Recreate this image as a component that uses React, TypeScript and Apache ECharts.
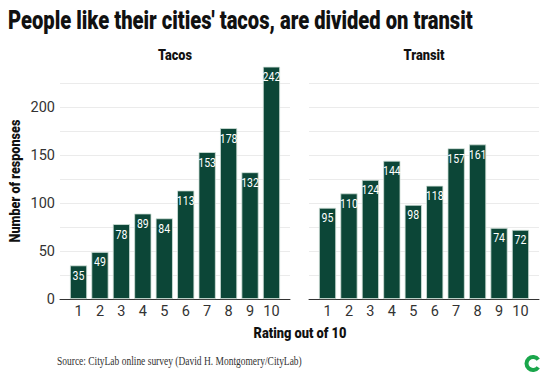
import React, { useEffect, useRef } from "react";
import * as echarts from "echarts";

const categories = ["1", "2", "3", "4", "5", "6", "7", "8", "9", "10"];
const tacos = [35, 49, 78, 89, 84, 113, 153, 178, 132, 242];
const transit = [95, 110, 124, 144, 98, 118, 157, 161, 74, 72];
const panelTitles = ["Tacos", "Transit"];
const yMax = 250;
const yStep = 25;

const FONT = "Roboto, 'Noto Sans', sans-serif";
const BAR = "#0c4637";

function fitScale(text: string, font: string, target: number): number {
  const c = document.createElement("canvas").getContext("2d")!;
  c.font = font;
  const w = c.measureText(text).width;
  return w > 0 ? target / w : 1;
}

export default function App() {
  const ref = useRef<HTMLDivElement>(null);
  useEffect(() => {
    document.body.style.margin = "0";
    const chart = echarts.init(ref.current!, null, { renderer: "svg" });
    const T = 59;
    const H = 240;
    const W = 230;
    const bgLeft = [60, 309];
    const inset = 7.8;
    const gridColors = Array.from({ length: yMax / yStep + 1 }, (_, i) =>
      i === 0 || i === yMax / yStep ? "rgba(0,0,0,0)" : "#ebebeb"
    );
    const grids: any[] = [];
    const xAxes: any[] = [];
    const yAxes: any[] = [];
    const series: any[] = [];
    const labelFont = `13.5px ${FONT}`;
    [tacos, transit].forEach((data, p) => {
      grids.push({ left: bgLeft[p], top: T, width: W, height: H });
      grids.push({ left: bgLeft[p] + inset, top: T, width: W - 2 * inset, height: H });
      xAxes.push({
        type: "value", gridIndex: 2 * p, min: 0, max: 1,
        axisLine: { show: true, onZero: false, lineStyle: { color: "#333", width: 1 } },
        axisTick: { show: false }, axisLabel: { show: false }, splitLine: { show: false },
      });
      xAxes.push({
        type: "category", gridIndex: 2 * p + 1, data: categories,
        axisLine: { show: false }, axisTick: { show: false },
        axisLabel: { color: "#333", fontFamily: FONT, fontSize: 14.5, margin: 5, interval: 0 },
      });
      yAxes.push({
        type: "value", gridIndex: 2 * p, min: 0, max: yMax, interval: yStep,
        axisLine: { show: false }, axisTick: { show: false },
        axisLabel: {
          show: p === 0, color: "#333", fontFamily: FONT, fontSize: 14.5, margin: 5,
          formatter: (v: number) => (v % 50 === 0 && v < yMax ? String(v) : ""),
        },
        splitLine: { show: true, lineStyle: { color: gridColors, width: 1 } },
      });
      yAxes.push({
        type: "value", gridIndex: 2 * p + 1, min: 0, max: yMax, interval: yStep, show: false,
        splitLine: { show: false },
      });
      series.push({
        type: "bar", xAxisIndex: 2 * p + 1, yAxisIndex: 2 * p + 1, data,
        barCategoryGap: "20%",
        itemStyle: { color: BAR, borderColor: "#d3e2db", borderWidth: 0.8 },
      });
      series.push({
        type: "custom", xAxisIndex: 2 * p + 1, yAxisIndex: 2 * p + 1,
        data: data.map((v, i) => [i, v]),
        z: 5,
        renderItem: (_params: any, api: any) => {
          const v = api.value(1);
          const pt = api.coord([api.value(0), v]);
          return {
            type: "text",
            x: pt[0],
            y: pt[1] + 3,
            scaleX: 0.78,
            style: { text: String(v), fill: "#fff", font: labelFont, align: "center", verticalAlign: "top" },
          };
        },
      });
    });

    const titleFont = `900 26px ${FONT}`;
    const titleText = "People like their cities' tacos, are divided on transit";
    const ptFont = `900 14px ${FONT}`;
    const axFont = `900 15px ${FONT}`;
    const yName = "Number of responses";
    const xName = "Rating out of 10";
    const srcFont = "12px 'Liberation Serif', serif";
    const srcText = "Source: CityLab online survey (David H. Montgomery/CityLab)";

    chart.setOption({
      animation: false,
      grid: grids,
      xAxis: xAxes,
      yAxis: yAxes,
      series,
      graphic: [
        {
          type: "text", x: 8, y: 20, scaleX: fitScale(titleText, titleFont, 465),
          style: { text: titleText, font: titleFont, fill: "#111", verticalAlign: "middle" },
        },
        {
          type: "text", x: 175, y: 55, scaleX: fitScale(panelTitles[0], ptFont, 34),
          style: { text: panelTitles[0], font: ptFont, fill: "#111", align: "center", verticalAlign: "middle" },
        },
        {
          type: "text", x: 424, y: 55, scaleX: fitScale(panelTitles[1], ptFont, 41),
          style: { text: panelTitles[1], font: ptFont, fill: "#111", align: "center", verticalAlign: "middle" },
        },
        {
          type: "text", x: 15, y: 181, rotation: Math.PI / 2, scaleX: fitScale(yName, axFont, 123),
          style: { text: yName, font: axFont, fill: "#111", align: "center", verticalAlign: "middle" },
        },
        {
          type: "text", x: 300, y: 333, scaleX: fitScale(xName, axFont, 93),
          style: { text: xName, font: axFont, fill: "#111", align: "center", verticalAlign: "middle" },
        },
        {
          type: "text", x: 57, y: 361, scaleX: fitScale(srcText, srcFont, 245),
          style: { text: srcText, font: srcFont, fill: "#333", verticalAlign: "middle" },
        },
        {
          type: "sector",
          shape: { cx: 533, cy: 363.5, r: 8.5, r0: 4.5, startAngle: Math.PI * 0.2, endAngle: Math.PI * 1.8, clockwise: true },
          style: { fill: "#1aa64b" },
        },
      ],
    });
    return () => chart.dispose();
  }, []);
  return <div ref={ref} style={{ width: 548, height: 378 }} />;
}
